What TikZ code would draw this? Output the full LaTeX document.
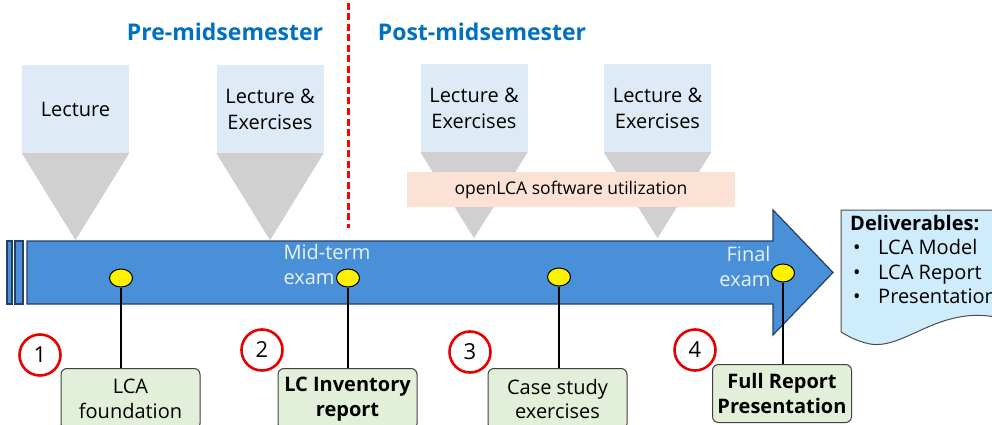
\documentclass[tikz,border=0pt]{standalone}
\usepackage{fontspec}
\setmainfont{Open Sans}
\usetikzlibrary{positioning,calc,shapes.geometric}
\definecolor{titleblue}{RGB}{0,112,192}
\definecolor{boxblue}{RGB}{222,235,247}
\definecolor{funnelgray}{RGB}{208,208,208}
\definecolor{barorange}{RGB}{251,226,213}
\definecolor{arrowblue}{RGB}{74,144,217}
\definecolor{arrowedge}{RGB}{38,64,100}
\definecolor{resgreen}{RGB}{226,240,217}
\definecolor{delblue}{RGB}{206,236,252}
\definecolor{stepred}{RGB}{232,0,0}
\tikzset{
  topic/.style={fill=boxblue,minimum width=107pt,minimum height=88pt,inner sep=0pt,align=center,font=\fontsize{20}{26}\selectfont},
  result/.style={draw=black!75,fill=resgreen,rounded corners=6pt,line width=1pt,minimum width=139pt,minimum height=61pt,anchor=north,align=center,font=\fontsize{20}{24.5}\selectfont},
  stepnum/.style={draw=stepred,fill=white,circle,line width=2.6pt,minimum size=41pt,inner sep=0pt,font=\fontsize{22}{22}\selectfont},
  milestone/.style={draw=black,fill=yellow,ellipse,line width=1pt,minimum width=23pt,minimum height=18pt,inner sep=0pt},
  stem/.style={line width=2pt},
  period/.style={text=titleblue,font=\fontsize{23}{23}\selectfont\bfseries},
  exam/.style={text=white!88!arrowblue,align=left,font=\fontsize{20}{25}\selectfont}
}
\begin{document}
\begin{tikzpicture}[x=1pt,y=-1pt]
\useasboundingbox (0,0) rectangle (992,425);
\node[period] (pre) at (225,32) {Pre-midsemester};
\node[period] (post) at (482,32) {Post-midsemester};
\node[topic] (t1) at (75.5,109) {\raisebox{-5pt}{Lecture}};
\node[topic] (t2) at (270,109) {Lecture \&\\Exercises};
\node[topic] (t3) at (474,108) {Lecture \&\\Exercises};
\node[topic] (t4) at (657.5,108) {Lecture \&\\Exercises};
\fill[funnelgray] (t1.south west) -- (t1.south east) -- ($(t1.south)+(0,87)$) -- cycle;
\fill[funnelgray] (t2.south west) -- (t2.south east) -- ($(t2.south)+(0,87)$) -- cycle;
\fill[funnelgray] (t3.south west) -- (t3.south east) -- ($(t3.south)+(0,86)$) -- cycle;
\fill[funnelgray] (t4.south west) -- (t4.south east) -- ($(t4.south)+(0,86)$) -- cycle;
\node[fill=barorange,minimum width=328pt,minimum height=35pt,font=\fontsize{17.5}{17.5}\selectfont] (tool) at (571,189.5) {openLCA software utilization};
\draw[red,line width=3pt,dash pattern=on 7pt off 3.5pt] (348,3) -- (348,228);
\draw[arrowedge,fill=arrowblue,line width=1.2pt] (7,241) rectangle (12,304);
\draw[arrowedge,fill=arrowblue,line width=1.2pt] (15,241) rectangle (23,304);
\draw[arrowedge,fill=arrowblue,line width=1.2pt] (27,241) -- (773,241) -- (773,210) -- (833,272.5) -- (773,335) -- (773,304) -- (27,304) -- cycle;
\node[exam,anchor=north west] (mid) at (280,241) {Mid-term\\exam};
\node[exam,anchor=north east,align=right] (fin) at (774,243) {Final\\exam};
\path[draw=black!70,fill=delblue,line width=1pt] (841,210) -- (1000,210) -- (1000,318) .. controls (940,304) and (905,350) .. (870,344) .. controls (856,341) and (848,336) .. (841,332) -- cycle;
\node[anchor=north west,align=left,inner sep=0pt,font=\fontsize{20}{24.5}\selectfont] (deliv) at (850,215) {\textbf{Deliverables:}\\\hspace*{3pt}\makebox[25pt][l]{\textbullet}LCA Model\\\hspace*{3pt}\makebox[25pt][l]{\textbullet}LCA Report\\\hspace*{3pt}\makebox[25pt][l]{\textbullet}Presentation};
\node[milestone] (m1) at (121,278) {};
\node[milestone] (m2) at (348,278) {};
\node[milestone] (m3) at (559,277) {};
\node[milestone] (m4) at (783,273) {};
\node[result] (r1) at (130.5,368) {LCA\\foundation};
\node[result,font=\fontsize{20}{24.5}\selectfont\bfseries] (r2) at (347.5,368) {LC Inventory\\report};
\node[result] (r3) at (557.5,368) {Case study\\exercises};
\node[result,minimum height=58pt,font=\fontsize{20}{24.5}\selectfont\bfseries] (r4) at (782,364) {Full Report\\Presentation};
\draw[stem] (m1.south) -- (m1.south |- r1.north);
\draw[stem] (m2.south) -- (m2.south |- r2.north);
\draw[stem] (m3.south) -- (m3.south |- r3.north);
\draw[stem] (m4.south) -- (m4.south |- r4.north);
\node[stepnum] (s1) at (40,355) {1};
\node[stepnum] (s2) at (262,350) {2};
\node[stepnum] (s3) at (470,352) {3};
\node[stepnum] (s4) at (695,350) {4};
\end{tikzpicture}
\end{document}
